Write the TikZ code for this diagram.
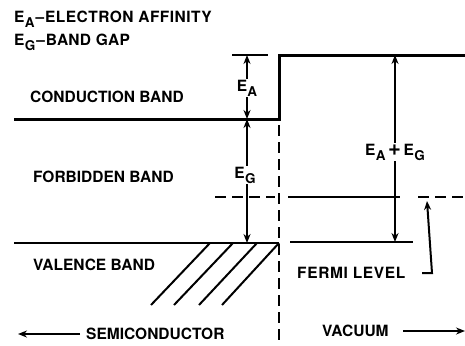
\documentclass[tikz,border=0pt]{standalone}
\usepackage{fontspec}
\setmainfont{TeX Gyre Heros}
\usetikzlibrary{arrows.meta}
\newcommand\Esb[1]{E\kern0.3pt\raisebox{-5pt}{\fontsize{13.5}{13.5}\selectfont #1}}
\begin{document}
\begin{tikzpicture}[x=1pt,y=-1pt,
  thinline/.style={line width=2pt},
  bandline/.style={line width=3pt},
  dsh/.style={line width=2pt, dash pattern=on 11pt off 6pt},
  arr/.style={line width=2pt,-{Stealth[length=9pt,width=7pt]}},
  lbl/.style={inner sep=0pt, font=\fontsize{15.5}{15.5}\selectfont\bfseries, anchor=west},
  elbl/.style={inner sep=1pt, font=\fontsize{15.5}{15.5}\selectfont\bfseries}]
\useasboundingbox (0,0) rectangle (465,345);
% coordinates
\coordinate (cbL) at (14,119);
\coordinate (cbR) at (279,119);
\coordinate (vacL) at (279,55);
\coordinate (vacR) at (465,55);
\coordinate (eaTL) at (232,55);
\coordinate (eaTR) at (268,55);
\coordinate (eaTop) at (247,55);
\coordinate (eaBot) at (247,119);
\coordinate (egBot) at (247,243);
\coordinate (vbL) at (14,243);
\coordinate (vbR) at (279,243);
\coordinate (dvT) at (279,125);
\coordinate (dvB) at (279,345);
\coordinate (agTop) at (395,55);
\coordinate (agBot) at (395,242);
\coordinate (vlL) at (290,242);
\coordinate (vlR) at (413,242);
% labels
\node[lbl] (t1) at (14,19) {\addfontfeature{LetterSpace=3}\Esb{A}\kern1pt\textendash\kern1pt ELECTRON AFFINITY};
\node[lbl] (t2) at (14,42) {\addfontfeature{LetterSpace=2}\Esb{G}\kern1pt\textendash\kern1pt BAND GAP};
\node[lbl] (cb) at (30,97) {CONDUCTION BAND};
\node[lbl] (fb) at (33,177) {FORBIDDEN BAND};
\node[lbl] (vb) at (33,265) {VALENCE BAND};
\node[lbl] (fl) at (297,273) {\addfontfeature{LetterSpace=4}FERMI LEVEL};
\node[lbl] (sc) at (86,334) {SEMICONDUCTOR};
\node[lbl] (vac) at (322,331) {VACUUM};
\node[elbl] (eA) at (247,88) {\Esb{A}};
\node[elbl] (eG) at (245,175) {\Esb{G}};
\node[elbl] (eAG) at (395,152) {\Esb{A}\,{\fontsize{22}{22}\selectfont +}\,\Esb{G}};
% bands
\draw[bandline] (cbL) -- (cbR) -- (vacL) -- (vacR);
\draw[thinline] (eaTL) -- (eaTR);
\draw[thinline] (vbL) -- (vbR);
\draw[thinline] (vlL) -- (vlR);
\draw[dsh] (dvT) -- (dvB);
% hatching
\foreach \i/\xa/\xb in {1/210/151, 2/233/174, 3/257/199, 4/279/222}{
  \coordinate (hA\i) at (\xa,243);
  \coordinate (hB\i) at (\xb,305);
  \draw[thinline] (hA\i) -- (hB\i);
}
% Fermi level
\coordinate (f1) at (215,197);
\coordinate (f2) at (275,197);
\coordinate (f3) at (288,197);
\coordinate (f4) at (400,197);
\coordinate (f5) at (418,197);
\coordinate (f6) at (465,197);
\draw[dsh] (f1) -- (f2);
\draw[thinline] (f3) -- (f4);
\draw[dsh] (f5) -- (f6);
% energy arrows
\draw[arr] (eA.north -| eaTop) -- (eaTop);
\draw[arr] (eA.south -| eaTop) -- (eaBot);
\draw[arr] (eG.north -| eaTop) -- (eaBot);
\draw[arr] (eG.south -| eaTop) -- (egBot);
\draw[arr] (eAG.north -| agTop) -- (agTop);
\draw[arr] (eAG.south -| agTop) -- (agBot);
% fermi leader
\coordinate (ld1) at (422,273);
\coordinate (ld2) at (432,273);
\coordinate (ld3) at (427,201);
\draw[arr] (ld1) -- (ld2) -- (ld3);
% direction arrows
\coordinate (scA) at (80,334);
\coordinate (scB) at (18,334);
\draw[arr] (scA) -- (scB);
\coordinate (vaA) at (403,331);
\coordinate (vaB) at (465,331);
\draw[arr] (vaA) -- (vaB);
\end{tikzpicture}
\end{document}
